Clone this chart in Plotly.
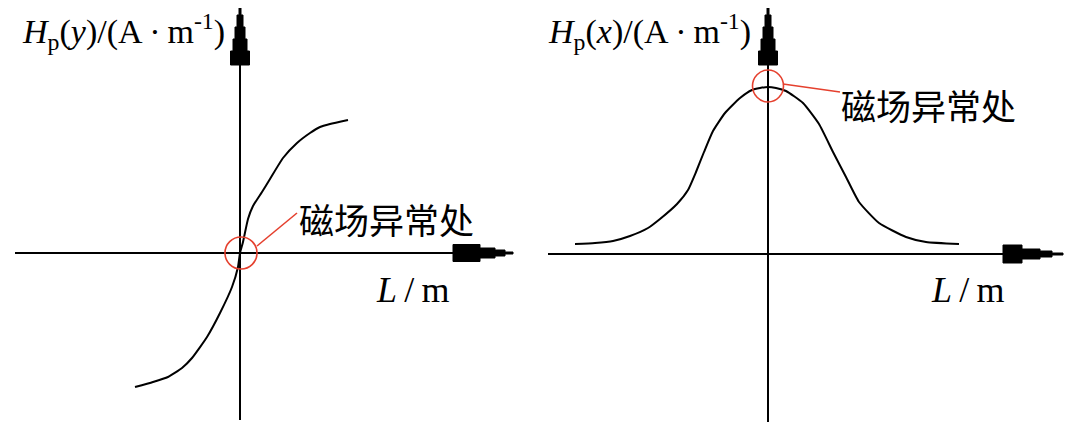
import plotly.graph_objects as go

# ---- data (arbitrary units) ----
left_L = [-1.05, -0.87, -0.72, -0.58, -0.48, -0.33, -0.20, -0.08, -0.02, 0.0, 0.03, 0.08, 0.13, 0.22, 0.30, 0.43, 0.57, 0.70, 0.80, 0.90, 1.08]
left_H = [-1.34, -1.29, -1.24, -1.15, -1.05, -0.84, -0.60, -0.34, -0.14, 0.0, 0.11, 0.34, 0.47, 0.61, 0.74, 0.95, 1.10, 1.20, 1.26, 1.29, 1.33]

right_L = [-1.93, -1.73, -1.55, -1.38, -1.20, -1.08, -0.91, -0.80, -0.72, -0.64, -0.55, -0.43, -0.28, -0.16, -0.08, 0.0,
           0.08, 0.18, 0.35, 0.51, 0.65, 0.78, 0.91, 1.11, 1.38, 1.58, 1.91]
right_H = [0.10, 0.11, 0.13, 0.18, 0.26, 0.35, 0.50, 0.64, 0.82, 1.02, 1.23, 1.41, 1.56, 1.64, 1.66, 1.67,
           1.66, 1.63, 1.51, 1.30, 1.02, 0.77, 0.52, 0.31, 0.17, 0.12, 0.10]

title_left = "<i>H</i><sub>p</sub>(<i>y</i>)/(A\u2009·\u2009m<sup>-1</sup>)"
title_right = "<i>H</i><sub>p</sub>(<i>x</i>)/(A\u2009·\u2009m<sup>-1</sup>)"
xlabel = "<i>L</i>\u2009/\u2009m"
anomaly = "磁场异常处"

RED = "#e5402e"
SERIF = "Liberation Serif, Times New Roman, serif"
CJK = "Noto Sans CJK SC"
U = 100.0  # pixels per data unit

fig = go.Figure()
fig.add_trace(go.Scatter(x=left_L, y=left_H, mode="lines", line=dict(color="black", width=2, shape="spline", smoothing=0.5),
                         xaxis="x", yaxis="y", hoverinfo="skip", showlegend=False))
fig.add_trace(go.Scatter(x=right_L, y=right_H, mode="lines", line=dict(color="black", width=2, shape="spline", smoothing=0.5),
                         xaxis="x2", yaxis="y2", hoverinfo="skip", showlegend=False))


def varrow(x0, ytip, steps):
    right = []
    for hw, a, b in steps:
        right.append((x0 + hw / U, ytip - a / U))
        right.append((x0 + hw / U, ytip - b / U))
    left = [(2 * x0 - px, py) for px, py in reversed(right)]
    pts = [(x0, ytip)] + right + left
    return "M " + " L ".join(f"{px:.4f},{py:.4f}" for px, py in pts) + " Z"


def harrow(xtip, y0, steps):
    top = []
    for hh, a, b in steps:
        top.append((xtip - a / U, y0 + hh / U))
        top.append((xtip - b / U, y0 + hh / U))
    bot = [(px, 2 * y0 - py) for px, py in reversed(top)]
    pts = [(xtip, y0)] + top + bot
    return "M " + " L ".join(f"{px:.4f},{py:.4f}" for px, py in pts) + " Z"


vsteps = [(1, 0, 10), (3, 10, 22), (5, 22, 34), (7, 34, 46), (9.5, 46, 60)]
hsteps_l = [(1, 0, 8), (3, 8, 18), (5, 18, 33), (8.5, 33, 60)]
hsteps_r = [(1, 0, 11), (3, 11, 23), (5, 23, 41), (9, 41, 60)]

shapes = []
for xr, yr, ymin, ytip, xmin, xtip, hs in [("x", "y", -1.67, 2.48, -2.25, 2.73, hsteps_l),
                                           ("x2", "y2", -1.68, 2.49, -2.25, 2.95, hsteps_r)]:
    shapes.append(dict(type="line", xref=xr, yref=yr, x0=0, x1=0, y0=ymin, y1=ytip - 0.3,
                       line=dict(color="black", width=2)))
    shapes.append(dict(type="line", xref=xr, yref=yr, x0=xmin, x1=xtip - 0.3, y0=0, y1=0,
                       line=dict(color="black", width=2)))
    shapes.append(dict(type="path", xref=xr, yref=yr, path=varrow(0, ytip, vsteps),
                       fillcolor="black", line=dict(color="black", width=1)))
    shapes.append(dict(type="path", xref=xr, yref=yr, path=harrow(xtip, 0, hs),
                       fillcolor="black", line=dict(color="black", width=1)))

# red markers
shapes.append(dict(type="circle", xref="x", yref="y", x0=0.01 - 0.16, x1=0.01 + 0.16, y0=-0.16, y1=0.16,
                   line=dict(color=RED, width=1.6)))
shapes.append(dict(type="line", xref="x", yref="y", x0=0.17, y0=0.07, x1=0.57, y1=0.40,
                   line=dict(color=RED, width=1.6)))
shapes.append(dict(type="circle", xref="x2", yref="y2", x0=-0.155, x1=0.155, y0=1.68 - 0.16, y1=1.68 + 0.16,
                   line=dict(color=RED, width=1.6)))
shapes.append(dict(type="line", xref="x2", yref="y2", x0=0.15, y0=1.70, x1=0.72, y1=1.62,
                   line=dict(color=RED, width=1.6)))

annotations = [
    dict(text=title_left, xref="paper", yref="paper", x=12 / 1080, y=1.0, xanchor="left", yanchor="top", yshift=2,
         showarrow=False, font=dict(family=SERIF, size=34, color="black")),
    dict(text=title_right, xref="paper", yref="paper", x=538 / 1080, y=1.0, xanchor="left", yanchor="top", yshift=2,
         showarrow=False, font=dict(family=SERIF, size=34, color="black")),
    dict(text=xlabel, xref="x", yref="y", x=1.34, y=-0.37, xanchor="left", yanchor="middle",
         showarrow=False, font=dict(family=SERIF, size=36, color="black")),
    dict(text=xlabel, xref="x2", yref="y2", x=1.61, y=-0.36, xanchor="left", yanchor="middle",
         showarrow=False, font=dict(family=SERIF, size=36, color="black")),
    dict(text=anomaly, xref="x", yref="y", x=0.57, y=0.35, xanchor="left", yanchor="middle",
         showarrow=False, font=dict(family=CJK, size=35, color="black")),
    dict(text=anomaly, xref="x2", yref="y2", x=0.71, y=1.50, xanchor="left", yanchor="middle",
         showarrow=False, font=dict(family=CJK, size=35, color="black")),
]

# the page adds an 8px body margin; ranges are offset so the drawing lands where the reference has it
fig.update_layout(
    width=1080, height=432, autosize=False,
    margin=dict(l=0, r=0, t=0, b=0),
    paper_bgcolor="white", plot_bgcolor="white",
    xaxis=dict(domain=[0, 0.5], range=[-2.32, 3.08], visible=False, fixedrange=True),
    yaxis=dict(domain=[0, 1], range=[-1.87, 2.45], visible=False, fixedrange=True, anchor="x"),
    xaxis2=dict(domain=[0.5, 1], range=[-2.20, 3.20], visible=False, fixedrange=True, anchor="y2"),
    yaxis2=dict(domain=[0, 1], range=[-1.86, 2.46], visible=False, fixedrange=True, anchor="x2"),
    shapes=shapes, annotations=annotations, showlegend=False,
)

fig.write_html("out.html")
